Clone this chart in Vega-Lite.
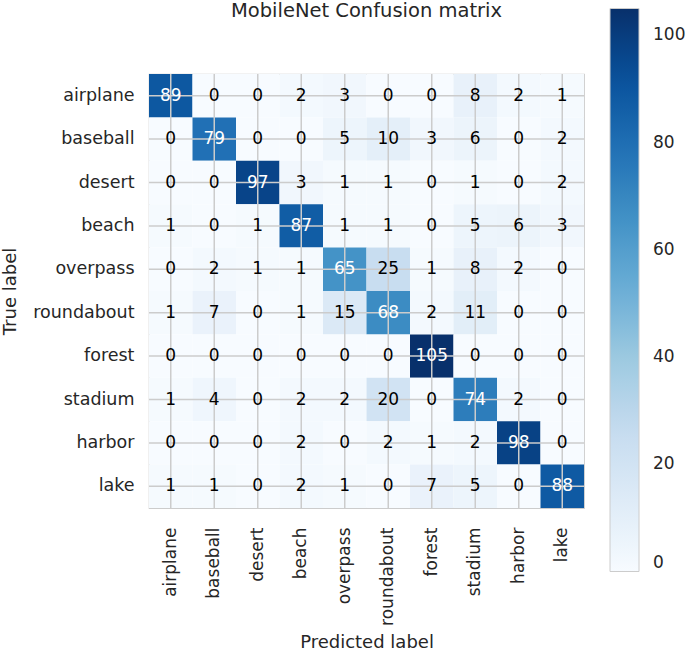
{
  "$schema": "https://vega.github.io/schema/vega-lite/v6.json",
  "width": 435,
  "height": 434,
  "autosize": {"type": "none"},
  "padding": {"left": 149, "top": 74, "right": 101, "bottom": 143},
  "background": "white",
  "title": {"text": "MobileNet Confusion matrix", "fontSize": 19.5, "font": "DejaVu Sans", "fontWeight": "normal", "color": "#262626", "anchor": "middle", "frame": "group", "baseline": "alphabetic", "offset": 0, "dy": 28},
  "config": {
    "font": "DejaVu Sans",
    "view": {"stroke": "#cccccc", "strokeWidth": 1.2}
  },
  "data": {"values": [
    {"t":"airplane","p":"airplane","v":89},{"t":"airplane","p":"baseball","v":0},{"t":"airplane","p":"desert","v":0},{"t":"airplane","p":"beach","v":2},{"t":"airplane","p":"overpass","v":3},{"t":"airplane","p":"roundabout","v":0},{"t":"airplane","p":"forest","v":0},{"t":"airplane","p":"stadium","v":8},{"t":"airplane","p":"harbor","v":2},{"t":"airplane","p":"lake","v":1},
    {"t":"baseball","p":"airplane","v":0},{"t":"baseball","p":"baseball","v":79},{"t":"baseball","p":"desert","v":0},{"t":"baseball","p":"beach","v":0},{"t":"baseball","p":"overpass","v":5},{"t":"baseball","p":"roundabout","v":10},{"t":"baseball","p":"forest","v":3},{"t":"baseball","p":"stadium","v":6},{"t":"baseball","p":"harbor","v":0},{"t":"baseball","p":"lake","v":2},
    {"t":"desert","p":"airplane","v":0},{"t":"desert","p":"baseball","v":0},{"t":"desert","p":"desert","v":97},{"t":"desert","p":"beach","v":3},{"t":"desert","p":"overpass","v":1},{"t":"desert","p":"roundabout","v":1},{"t":"desert","p":"forest","v":0},{"t":"desert","p":"stadium","v":1},{"t":"desert","p":"harbor","v":0},{"t":"desert","p":"lake","v":2},
    {"t":"beach","p":"airplane","v":1},{"t":"beach","p":"baseball","v":0},{"t":"beach","p":"desert","v":1},{"t":"beach","p":"beach","v":87},{"t":"beach","p":"overpass","v":1},{"t":"beach","p":"roundabout","v":1},{"t":"beach","p":"forest","v":0},{"t":"beach","p":"stadium","v":5},{"t":"beach","p":"harbor","v":6},{"t":"beach","p":"lake","v":3},
    {"t":"overpass","p":"airplane","v":0},{"t":"overpass","p":"baseball","v":2},{"t":"overpass","p":"desert","v":1},{"t":"overpass","p":"beach","v":1},{"t":"overpass","p":"overpass","v":65},{"t":"overpass","p":"roundabout","v":25},{"t":"overpass","p":"forest","v":1},{"t":"overpass","p":"stadium","v":8},{"t":"overpass","p":"harbor","v":2},{"t":"overpass","p":"lake","v":0},
    {"t":"roundabout","p":"airplane","v":1},{"t":"roundabout","p":"baseball","v":7},{"t":"roundabout","p":"desert","v":0},{"t":"roundabout","p":"beach","v":1},{"t":"roundabout","p":"overpass","v":15},{"t":"roundabout","p":"roundabout","v":68},{"t":"roundabout","p":"forest","v":2},{"t":"roundabout","p":"stadium","v":11},{"t":"roundabout","p":"harbor","v":0},{"t":"roundabout","p":"lake","v":0},
    {"t":"forest","p":"airplane","v":0},{"t":"forest","p":"baseball","v":0},{"t":"forest","p":"desert","v":0},{"t":"forest","p":"beach","v":0},{"t":"forest","p":"overpass","v":0},{"t":"forest","p":"roundabout","v":0},{"t":"forest","p":"forest","v":105},{"t":"forest","p":"stadium","v":0},{"t":"forest","p":"harbor","v":0},{"t":"forest","p":"lake","v":0},
    {"t":"stadium","p":"airplane","v":1},{"t":"stadium","p":"baseball","v":4},{"t":"stadium","p":"desert","v":0},{"t":"stadium","p":"beach","v":2},{"t":"stadium","p":"overpass","v":2},{"t":"stadium","p":"roundabout","v":20},{"t":"stadium","p":"forest","v":0},{"t":"stadium","p":"stadium","v":74},{"t":"stadium","p":"harbor","v":2},{"t":"stadium","p":"lake","v":0},
    {"t":"harbor","p":"airplane","v":0},{"t":"harbor","p":"baseball","v":0},{"t":"harbor","p":"desert","v":0},{"t":"harbor","p":"beach","v":2},{"t":"harbor","p":"overpass","v":0},{"t":"harbor","p":"roundabout","v":2},{"t":"harbor","p":"forest","v":1},{"t":"harbor","p":"stadium","v":2},{"t":"harbor","p":"harbor","v":98},{"t":"harbor","p":"lake","v":0},
    {"t":"lake","p":"airplane","v":1},{"t":"lake","p":"baseball","v":1},{"t":"lake","p":"desert","v":0},{"t":"lake","p":"beach","v":2},{"t":"lake","p":"overpass","v":1},{"t":"lake","p":"roundabout","v":0},{"t":"lake","p":"forest","v":7},{"t":"lake","p":"stadium","v":5},{"t":"lake","p":"harbor","v":0},{"t":"lake","p":"lake","v":88}
  ]},
  "layer": [
    {
      "mark": {"type": "rect"},
      "encoding": {
        "x": {"field": "p", "type": "nominal",
          "sort": ["airplane","baseball","desert","beach","overpass","roundabout","forest","stadium","harbor","lake"],
          "scale": {"paddingInner": 0, "paddingOuter": 0},
          "axis": {"title": "Predicted label", "titleFontSize": 18, "titleFontWeight": "normal", "titleColor": "#262626",
            "titleX": 217.5, "titleY": 139, "titleBaseline": "alphabetic", "titleAlign": "center",
            "labelAngle": -90, "labelAlign": "right", "labelBaseline": "middle", "labelPadding": 19,
            "labelFontSize": 17, "labelColor": "#262626", "ticks": false, "domain": false, "grid": false,
            "labelOverlap": false, "labelBound": false}
        },
        "y": {"field": "t", "type": "nominal",
          "sort": ["airplane","baseball","desert","beach","overpass","roundabout","forest","stadium","harbor","lake"],
          "scale": {"paddingInner": 0, "paddingOuter": 0},
          "axis": {"title": "True label", "titleFontSize": 18, "titleFontWeight": "normal", "titleColor": "#262626",
            "titleX": -134, "titleY": 217, "titleAngle": 270, "titleBaseline": "alphabetic", "titleAlign": "center",
            "labelAlign": "right", "labelBaseline": "middle", "labelPadding": 15,
            "labelFontSize": 17.5, "labelColor": "#262626", "ticks": false, "domain": false, "grid": false,
            "labelOverlap": false, "labelBound": false}
        },
        "color": {"field": "v", "type": "quantitative",
          "scale": {"domain": [0, 13.125, 26.25, 39.375, 52.5, 65.625, 78.75, 91.875, 105],
            "range": ["#f7fbff","#deebf7","#c6dbef","#9ecae1","#6baed6","#4292c6","#2171b5","#08519c","#08306b"],
            "interpolate": "rgb"},
          "legend": {"orient": "none", "legendX": 461, "legendY": -65.5, "direction": "vertical",
            "gradientLength": 563, "gradientThickness": 29, "values": [0,20,40,60,80,100], "title": null,
            "labelFontSize": 17, "labelColor": "#262626", "labelOffset": 14, "labelBaseline": "middle", "labelAlign": "left",
            "gradientStrokeColor": "#cccccc", "gradientStrokeWidth": 1, "padding": 0, "labelOverlap": false}
        }
      }
    },
    {
      "transform": [{"aggregate": [{"op": "count", "as": "n"}], "groupby": ["p"]}],
      "mark": {"type": "rule", "color": "#cccccc", "strokeWidth": 1.5},
      "encoding": {
        "x": {"field": "p", "type": "nominal", "sort": ["airplane","baseball","desert","beach","overpass","roundabout","forest","stadium","harbor","lake"]}
      }
    },
    {
      "transform": [{"aggregate": [{"op": "count", "as": "n"}], "groupby": ["t"]}],
      "mark": {"type": "rule", "color": "#cccccc", "strokeWidth": 1.5},
      "encoding": {
        "y": {"field": "t", "type": "nominal", "sort": ["airplane","baseball","desert","beach","overpass","roundabout","forest","stadium","harbor","lake"]}
      }
    },
    {
      "mark": {"type": "text", "fontSize": 17, "align": "center", "baseline": "middle"},
      "encoding": {
        "x": {"field": "p", "type": "nominal", "sort": ["airplane","baseball","desert","beach","overpass","roundabout","forest","stadium","harbor","lake"]},
        "y": {"field": "t", "type": "nominal", "sort": ["airplane","baseball","desert","beach","overpass","roundabout","forest","stadium","harbor","lake"]},
        "text": {"field": "v", "type": "quantitative"},
        "color": {"condition": {"test": "datum.v > 52.5", "value": "#ffffff"}, "value": "#000000"}
      }
    }
  ]
}
